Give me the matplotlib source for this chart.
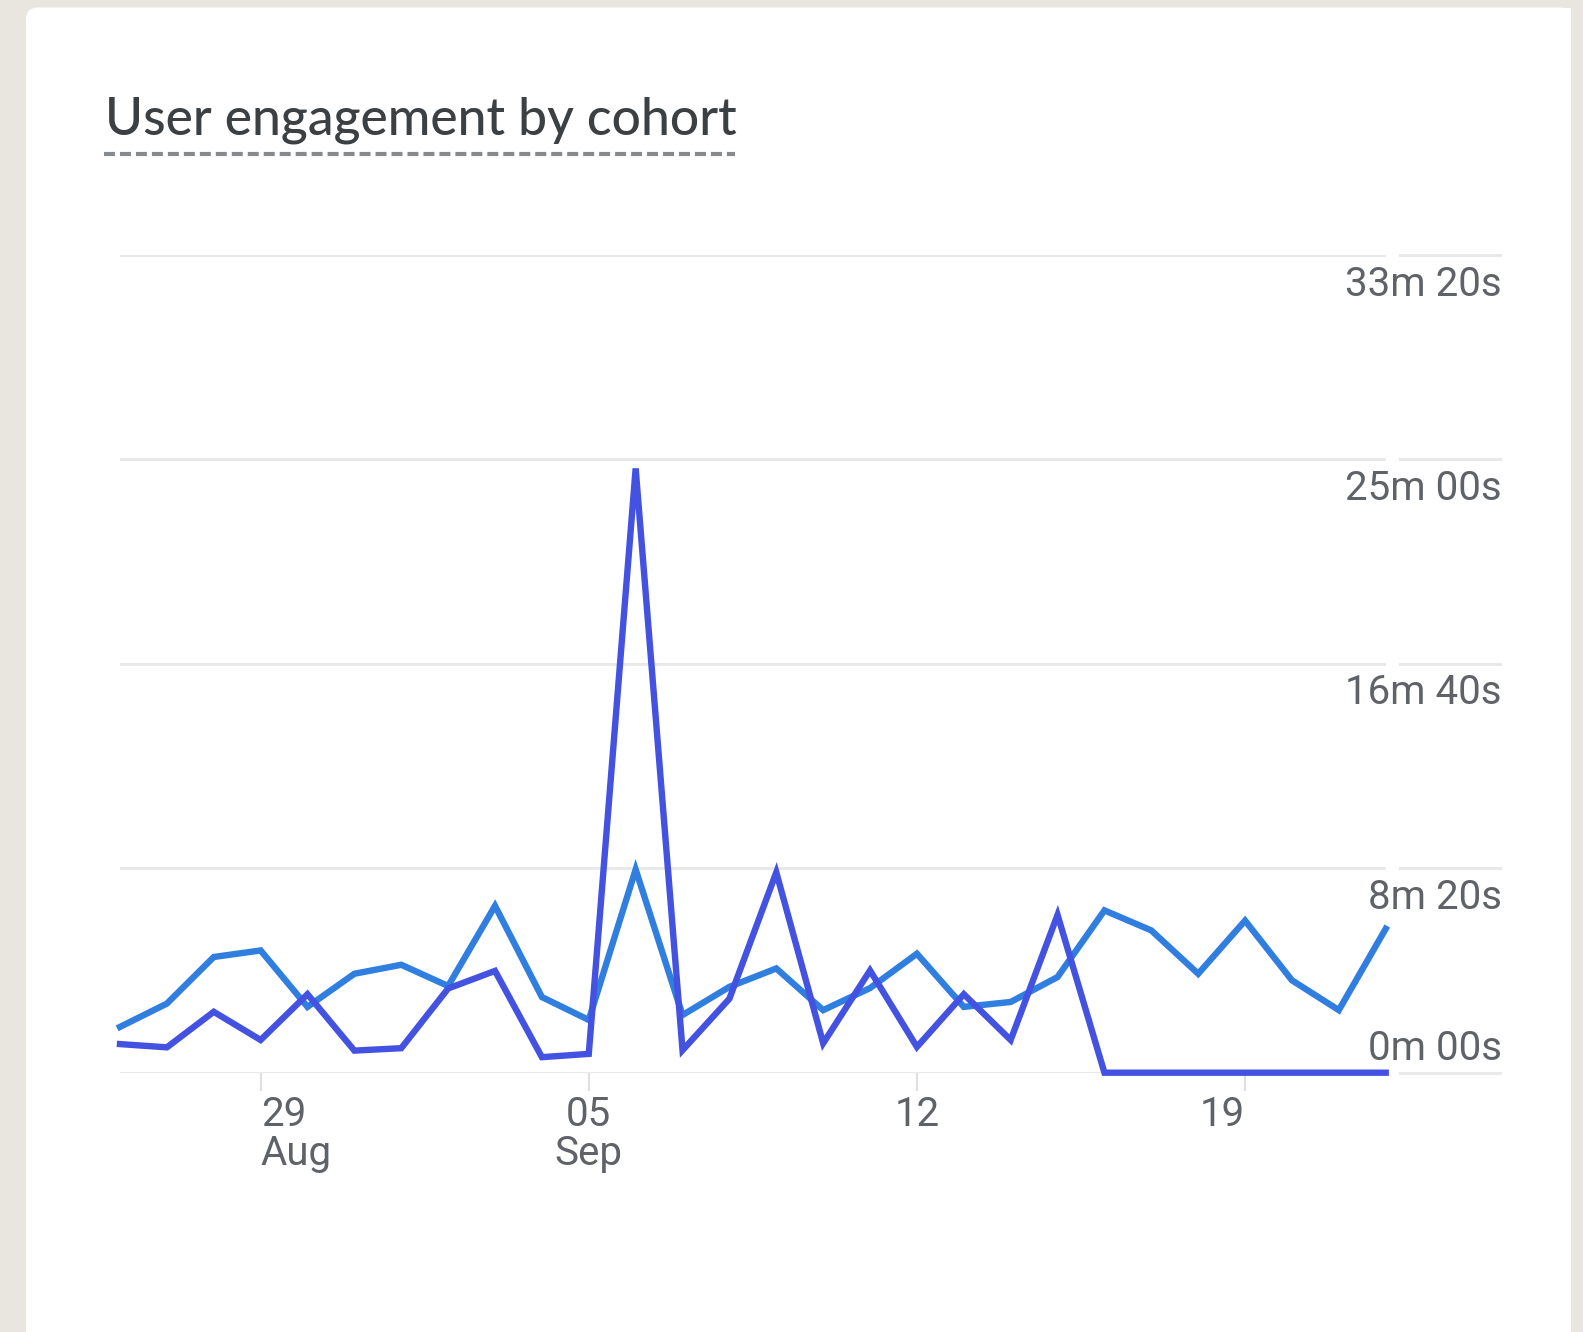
import numpy as np
import matplotlib
matplotlib.use("Agg")
import matplotlib.pyplot as plt
import matplotlib.transforms as mtransforms
from matplotlib.patches import FancyBboxPatch, Rectangle
from matplotlib.lines import Line2D

plt.rcParams["lines.scale_dashes"] = False

# ---- data -------------------------------------------------------------
dates = (["Aug %02d" % d for d in range(26, 32)] +
         ["Sep %02d" % d for d in range(1, 23)])

# average engagement time, seconds
cohort_a_sec = [112, 169, 283, 299, 161, 242, 264, 212, 408, 185, 129, 497, 141, 210,
                255, 153, 207, 291, 161, 173, 234, 397, 348, 242, 372, 226, 153, 352]
cohort_b_sec = [70, 62, 149, 80, 192, 54, 60, 206, 249, 38, 46, 1478, 55, 181,
                490, 72, 250, 63, 192, 80, 386, 0, 0, 0, 0, 0, 0, 0]

tick_dates = ["Aug 29", "Sep 05", "Sep 12", "Sep 19"]
tick_day_labels = ["29", "05", "12", "19"]
tick_month_labels = ["Aug", "Sep", "", ""]

y_ticks_sec = [0, 500, 1000, 1500, 2000]
y_tick_labels = ["0m 00s", "8m 20s", "16m 40s", "25m 00s", "33m 20s"]

title_text = "User engagement by cohort"

# ---- figure & card ------------------------------------------------------
W, H = 1583, 1332
fig = plt.figure(figsize=(W / 100, H / 100), dpi=100)
fig.patch.set_facecolor("#e9e5df")

# pixel coordinates (origin bottom-left)
P = mtransforms.Affine2D().scale(1.0 / W, 1.0 / H) + fig.transFigure

card_left, card_right, card_top = 26, 1571, H - 7.5
card = FancyBboxPatch((card_left, -40), card_right - card_left, card_top + 40,
                      boxstyle="round,pad=0,rounding_size=12",
                      transform=P, facecolor="white", edgecolor="none", zorder=-10)
fig.patches.append(card)
fig.patches.append(Rectangle((800, -40), card_right - 800, card_top + 40,
                             transform=P, facecolor="white", edgecolor="none", zorder=-10))

# ---- title with dashed underline ---------------------------------------
title = fig.text(105 / W, 1 - 135 / H, title_text, fontsize=32, family="Lato",
                 weight="medium", color="#3c4043", ha="left", va="baseline")
fig.canvas.draw()
bb = title.get_window_extent()
title.set_fontsize(32 * 631.0 / bb.width)
fig.lines.append(Line2D([104, 735], [H - 154, H - 154], transform=P,
                        color="#868a8f", lw=3.0, linestyle=(0, (7.9, 3.6))))

# ---- axes ---------------------------------------------------------------
x_left, x_right = 120, 1385.7
y_base, y_top = 1072.7, 255.0
ax = fig.add_axes([x_left / W, (H - y_base) / H, (x_right - x_left) / W, (y_base - y_top) / H])
ax.set_zorder(1)
ax.set_xlim(0, len(dates) - 1)
ax.set_ylim(y_ticks_sec[0], y_ticks_sec[-1])
ax.patch.set_visible(False)
for s in ax.spines.values():
    s.set_visible(False)
ax.set_yticks([])

x = np.arange(len(dates))
tick_idx = [dates.index(d) for d in tick_dates]
ax.set_xticks(tick_idx)
ax.tick_params(axis="x", length=13, width=1.5, color="#e0e0e0", labelbottom=False)

# horizontal grid, plus short segments under the value labels
grid_color = "#e9e9e9"
label_tr = mtransforms.blended_transform_factory(P, ax.transData)
for v in y_ticks_sec:
    ax.axhline(v, color=grid_color, lw=2.2, zorder=0)
    ax.add_line(Line2D([1400, 1500], [v, v], transform=label_tr, color=grid_color,
                       lw=2.2, clip_on=False, zorder=0))

# series
ax.plot(x, cohort_a_sec, color="#2f7ee0", lw=4.6, solid_joinstyle="miter",
        clip_on=False, zorder=3)
ax.plot(x, cohort_b_sec, color="#4452e2", lw=4.6, solid_joinstyle="miter",
        clip_on=False, zorder=4)

# value labels on the right
text_color = "#5f6368"
font_kw = dict(family="Roboto", fontsize=29, color=text_color)
for v, lab in zip(y_ticks_sec, y_tick_labels):
    dy = 12.7 if v == y_ticks_sec[0] else -40.6
    off = mtransforms.ScaledTranslation(0, dy / 100.0, fig.dpi_scale_trans)
    ax.text(1502, v, lab, transform=label_tr + off, ha="right", va="baseline",
            clip_on=False, **font_kw)

# date labels
date_tr = mtransforms.blended_transform_factory(ax.transData, P)
n_ticks = len(tick_idx)
for k, (i, dlab, mlab) in enumerate(zip(tick_idx, tick_day_labels, tick_month_labels)):
    ha = "left" if k == 0 else ("right" if k == n_ticks - 1 else "center")
    ax.text(i, H - 1126, dlab, transform=date_tr, ha=ha, va="baseline",
            clip_on=False, **font_kw)
    if mlab:
        ax.text(i, H - 1165, mlab, transform=date_tr, ha=ha, va="baseline",
                clip_on=False, **font_kw)

fig.savefig("out.png", dpi=100)
